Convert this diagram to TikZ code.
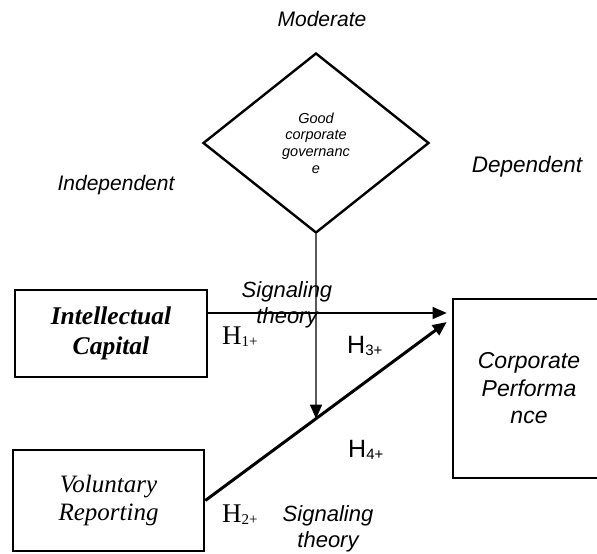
\documentclass[tikz,border=0pt]{standalone}
\usepackage{fontspec}
\setmainfont{Liberation Serif}
\setsansfont{Liberation Sans}
\usetikzlibrary{arrows.meta,shapes.geometric}
\newcommand{\headarrow}{-{Triangle[length=14pt,width=12pt]}}
\newcommand{\hyp}[2]{#1\raisebox{-2pt}{\fontsize{15}{15}\selectfont #2}}

\begin{document}
\begin{tikzpicture}[x=1pt,y=-1pt,
	varbox/.style={draw,line width=2.6pt,inner sep=0pt,align=center},
	roletext/.style={font=\sffamily\itshape\fontsize{21}{21}\selectfont,inner sep=0pt,anchor=base},
	theorytext/.style={font=\sffamily\itshape\fontsize{22}{26}\selectfont,inner sep=0pt,align=center},
	]
	\useasboundingbox (0,0) rectangle (597,554);
	\clip (0,0) rectangle (597,554);
	% roles
	\node[roletext] (moderate) at (322,27) {Moderate};
	\node[roletext] (independent) at (116,190) {Independent};
	\node[roletext,font=\sffamily\itshape\fontsize{22.5}{22.5}\selectfont] (dependent) at (527,172) {Dependent};
	% variables
	\node[draw,diamond,line width=2.4pt,inner sep=0pt,minimum width=226pt,minimum height=180pt,align=center,font=\sffamily\itshape\fontsize{14.5}{16.7}\selectfont] (gcg) at (316,143) {Good\\corporate\\governanc\\e};
	\node[varbox,minimum width=192pt,minimum height=87pt,font=\bfseries\itshape\fontsize{25.5}{30}\selectfont] (ic) at (111,333.5) {Intellectual\\Capital};
	\node[varbox,minimum width=191pt,minimum height=101pt,font=\itshape\fontsize{25}{28}\selectfont] (vr) at (108.5,500.5) {Voluntary\\Reporting};
	\node[varbox,minimum width=152pt,minimum height=179pt,font=\sffamily\itshape\fontsize{23}{27.5}\selectfont] (cp) at (529,388.5) {Corporate\\Performa\\nce};
	% connectors
	\coordinate (h1start) at ([yshift=20.5pt]ic.east);
	\coordinate (h2end) at ([xshift=-5pt,yshift=66.5pt]cp.west);
	\path (intersection of gcg.south--gcg.center and vr.east--h2end) coordinate (meet);
	\draw[\headarrow,line width=1.3pt,shorten >=5pt] (h1start) -- (h1start -| cp.west);
	\draw[\headarrow,line width=3pt] (vr.east) -- (h2end);
	\draw[\headarrow,line width=1.3pt] (gcg.south) -- (meet);
	% hypotheses
	\node[theorytext] (sig1) at (287,305) {Signaling\\theory};
	\node[theorytext] (sig2) at (328,529) {Signaling\\theory};
	\node[anchor=base west,inner sep=0pt,font=\fontsize{27}{27}\selectfont] (h1) at (222,344) {\hyp{H}{1+}};
	\node[anchor=base west,inner sep=0pt,font=\fontsize{27}{27}\selectfont] (h2) at (222,522) {\hyp{H}{2+}};
	\node[anchor=base west,inner sep=0pt,font=\sffamily\fontsize{25}{25}\selectfont] (h3) at (347,353) {\hyp{H}{3+}};
	\node[anchor=base west,inner sep=0pt,font=\sffamily\fontsize{25}{25}\selectfont] (h4) at (348,457) {\hyp{H}{4+}};
\end{tikzpicture}
\end{document}
